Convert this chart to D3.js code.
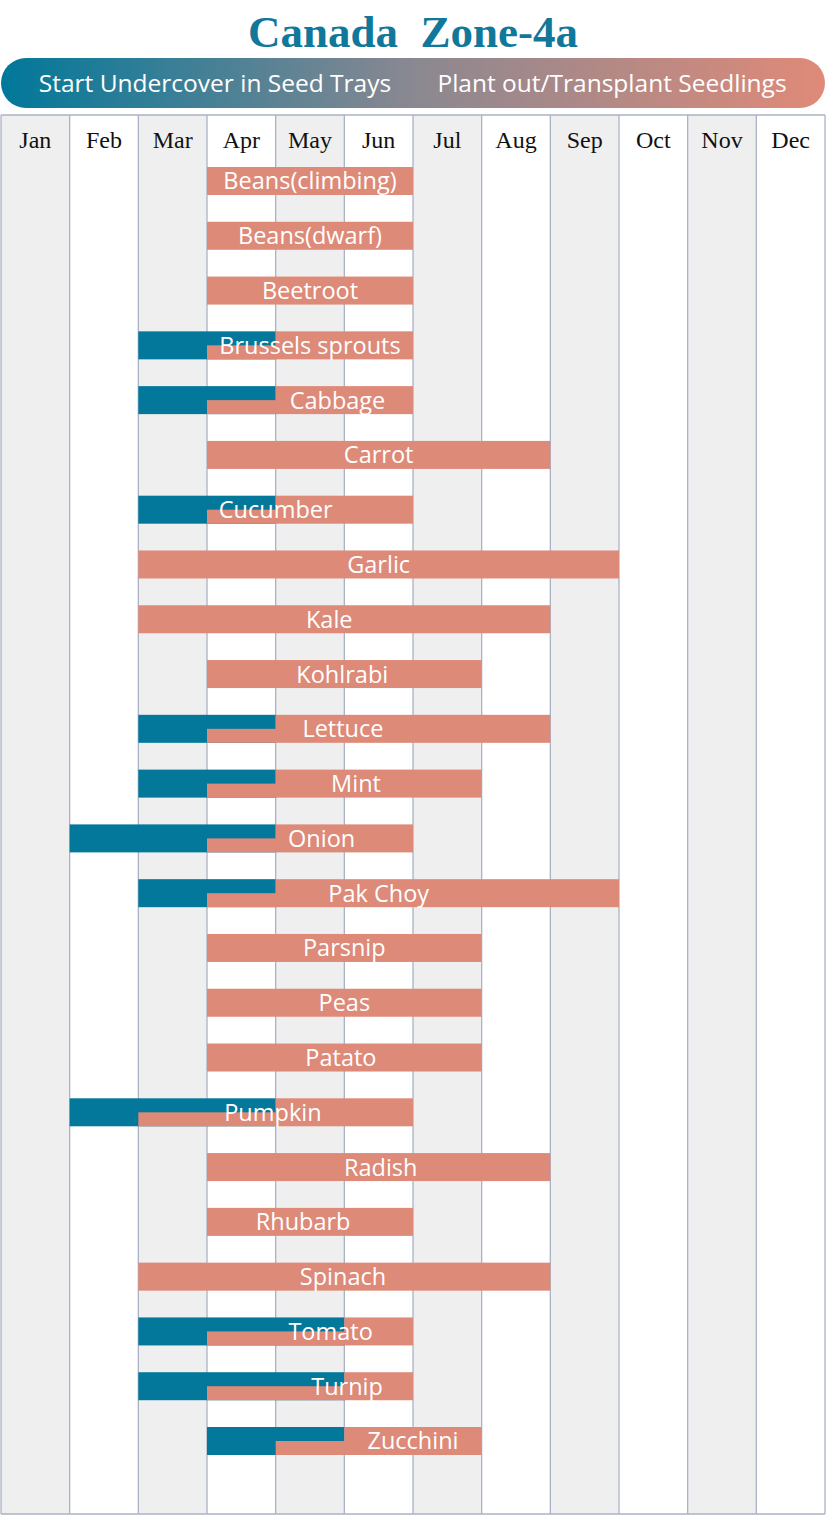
<!DOCTYPE html>
<html>
<head>
<meta charset="utf-8">
<script src="https://cdn.jsdelivr.net/npm/d3@7"></script>
<style>
  html, body { margin: 0; padding: 0; background: #ffffff; }
  svg { display: block; }
</style>
</head>
<body>
<script>
// ---------- data ----------
const title = "Canada\u00A0 Zone-4a";
const legendLabels = ["Start Undercover in Seed Trays", "Plant out/Transplant Seedlings"];
const months = ["Jan","Feb","Mar","Apr","May","Jun","Jul","Aug","Sep","Oct","Nov","Dec"];
const crops = ["Beans(climbing)","Beans(dwarf)","Beetroot","Brussels sprouts","Cabbage","Carrot",
  "Cucumber","Garlic","Kale","Kohlrabi","Lettuce","Mint","Onion","Pak Choy","Parsnip","Peas",
  "Patato","Pumpkin","Radish","Rhubarb","Spinach","Tomato","Turnip","Zucchini"];
// month boundaries (0 = start of Jan, 12 = end of Dec); null = no undercover sowing
const sowStart   = [null,null,null,2,2,null,2,null,null,null,2,2,1,2,null,null,null,1,null,null,null,2,2,3];
const sowEnd     = [null,null,null,4,4,null,4,null,null,null,4,4,4,4,null,null,null,4,null,null,null,5,5,5];
const plantStart = [3,3,3,3,3,3,3,2,2,3,3,3,3,3,3,3,3,2,3,3,2,3,3,4];
const plantEnd   = [6,6,6,6,6,8,6,9,8,7,8,7,6,9,7,7,7,6,8,6,8,6,6,7];
const labelAt    = [4.5,4.5,4.5,4.5,4.9,5.5,4.0,5.5,4.78,4.97,4.98,5.17,4.67,5.5,5.0,5.0,4.95,3.96,5.53,4.4,4.98,4.8,5.04,6.0];

// ---------- styles ----------
const W = 826, H = 1516;
const TEAL = "#03789b", SALMON = "#dd8a79", GRID = "#aab2c5", GREY = "#efefef";
const SANS = "'Open Sans', 'Noto Sans', sans-serif";
const SERIF = "'Liberation Serif', 'DejaVu Serif', serif";

const svg = d3.select("body").append("svg").attr("width", W).attr("height", H);

const x = d3.scaleLinear().domain([0, 12]).range([1, 825]);
const y = d3.scalePoint().domain(crops).range([181, 1441]);
const gridTop = 115, gridBottom = 1514, barH = 28;

// title
svg.append("text").attr("x", 413).attr("y", 47).attr("text-anchor", "middle")
  .attr("font-family", SERIF).attr("font-weight", "bold").attr("font-size", 45)
  .attr("fill", "#10789a").text(title);

// legend pill
const defs = svg.append("defs");
const grad = defs.append("linearGradient").attr("id", "lg").attr("x1", "0%").attr("x2", "100%");
grad.append("stop").attr("offset", "0%").attr("stop-color", "#00789a");
grad.append("stop").attr("offset", "50%").attr("stop-color", "#8a8891");
grad.append("stop").attr("offset", "100%").attr("stop-color", "#e08a78");
svg.append("rect").attr("x", 1).attr("y", 58).attr("width", 824).attr("height", 50)
  .attr("rx", 25).attr("fill", "url(#lg)");
svg.append("text").attr("x", 215).attr("y", 83).attr("dy", "0.35em").attr("text-anchor", "middle")
  .attr("font-family", SANS).attr("font-weight", 500).attr("font-size", 24.5).attr("fill", "#fff")
  .text(legendLabels[0]);
svg.append("text").attr("x", 612).attr("y", 83).attr("dy", "0.35em").attr("text-anchor", "middle")
  .attr("font-family", SANS).attr("font-weight", 500).attr("font-size", 24.5).attr("fill", "#fff")
  .text(legendLabels[1]);

// month columns
const cols = svg.append("g");
cols.selectAll("rect").data(months).join("rect")
  .attr("x", (d, i) => x(i)).attr("y", gridTop)
  .attr("width", (d, i) => x(i + 1) - x(i)).attr("height", gridBottom - gridTop)
  .attr("fill", (d, i) => i % 2 === 0 ? GREY : "#ffffff");
cols.selectAll("line").data(d3.range(13)).join("line")
  .attr("x1", d => x(d)).attr("x2", d => x(d)).attr("y1", gridTop).attr("y2", gridBottom)
  .attr("stroke", GRID).attr("stroke-width", 1.3);
cols.append("line").attr("x1", x(0)).attr("x2", x(12)).attr("y1", gridTop).attr("y2", gridTop)
  .attr("stroke", GRID).attr("stroke-width", 1.3);
cols.append("line").attr("x1", x(0)).attr("x2", x(12)).attr("y1", gridBottom).attr("y2", gridBottom)
  .attr("stroke", GRID).attr("stroke-width", 1.3);
cols.selectAll("text").data(months).join("text")
  .attr("x", (d, i) => (x(i) + x(i + 1)) / 2).attr("y", 148).attr("text-anchor", "middle")
  .attr("font-family", SERIF).attr("font-size", 24).attr("fill", "#111").text(d => d);

// bars
const bars = svg.append("g");
crops.forEach((c, i) => {
  const cy = y(c), top = cy - barH / 2;
  const g = bars.append("g");
  if (sowStart[i] !== null) {
    g.append("rect").attr("x", x(sowStart[i])).attr("y", top)
      .attr("width", x(sowEnd[i]) - x(sowStart[i])).attr("height", barH).attr("fill", TEAL);
    g.append("rect").attr("x", x(sowEnd[i])).attr("y", top)
      .attr("width", x(plantEnd[i]) - x(sowEnd[i])).attr("height", barH).attr("fill", SALMON);
    g.append("rect").attr("x", x(plantStart[i])).attr("y", cy)
      .attr("width", x(sowEnd[i]) - x(plantStart[i]) + 0.5).attr("height", barH / 2).attr("fill", SALMON);
  } else {
    g.append("rect").attr("x", x(plantStart[i])).attr("y", top)
      .attr("width", x(plantEnd[i]) - x(plantStart[i])).attr("height", barH).attr("fill", SALMON);
  }
  g.append("text").attr("x", x(labelAt[i])).attr("y", cy).attr("dy", "0.36em")
    .attr("text-anchor", "middle").attr("font-family", SANS).attr("font-weight", 500)
    .attr("font-size", 23.5).attr("fill", "#ffffff").text(c);
});
</script>
</body>
</html>
